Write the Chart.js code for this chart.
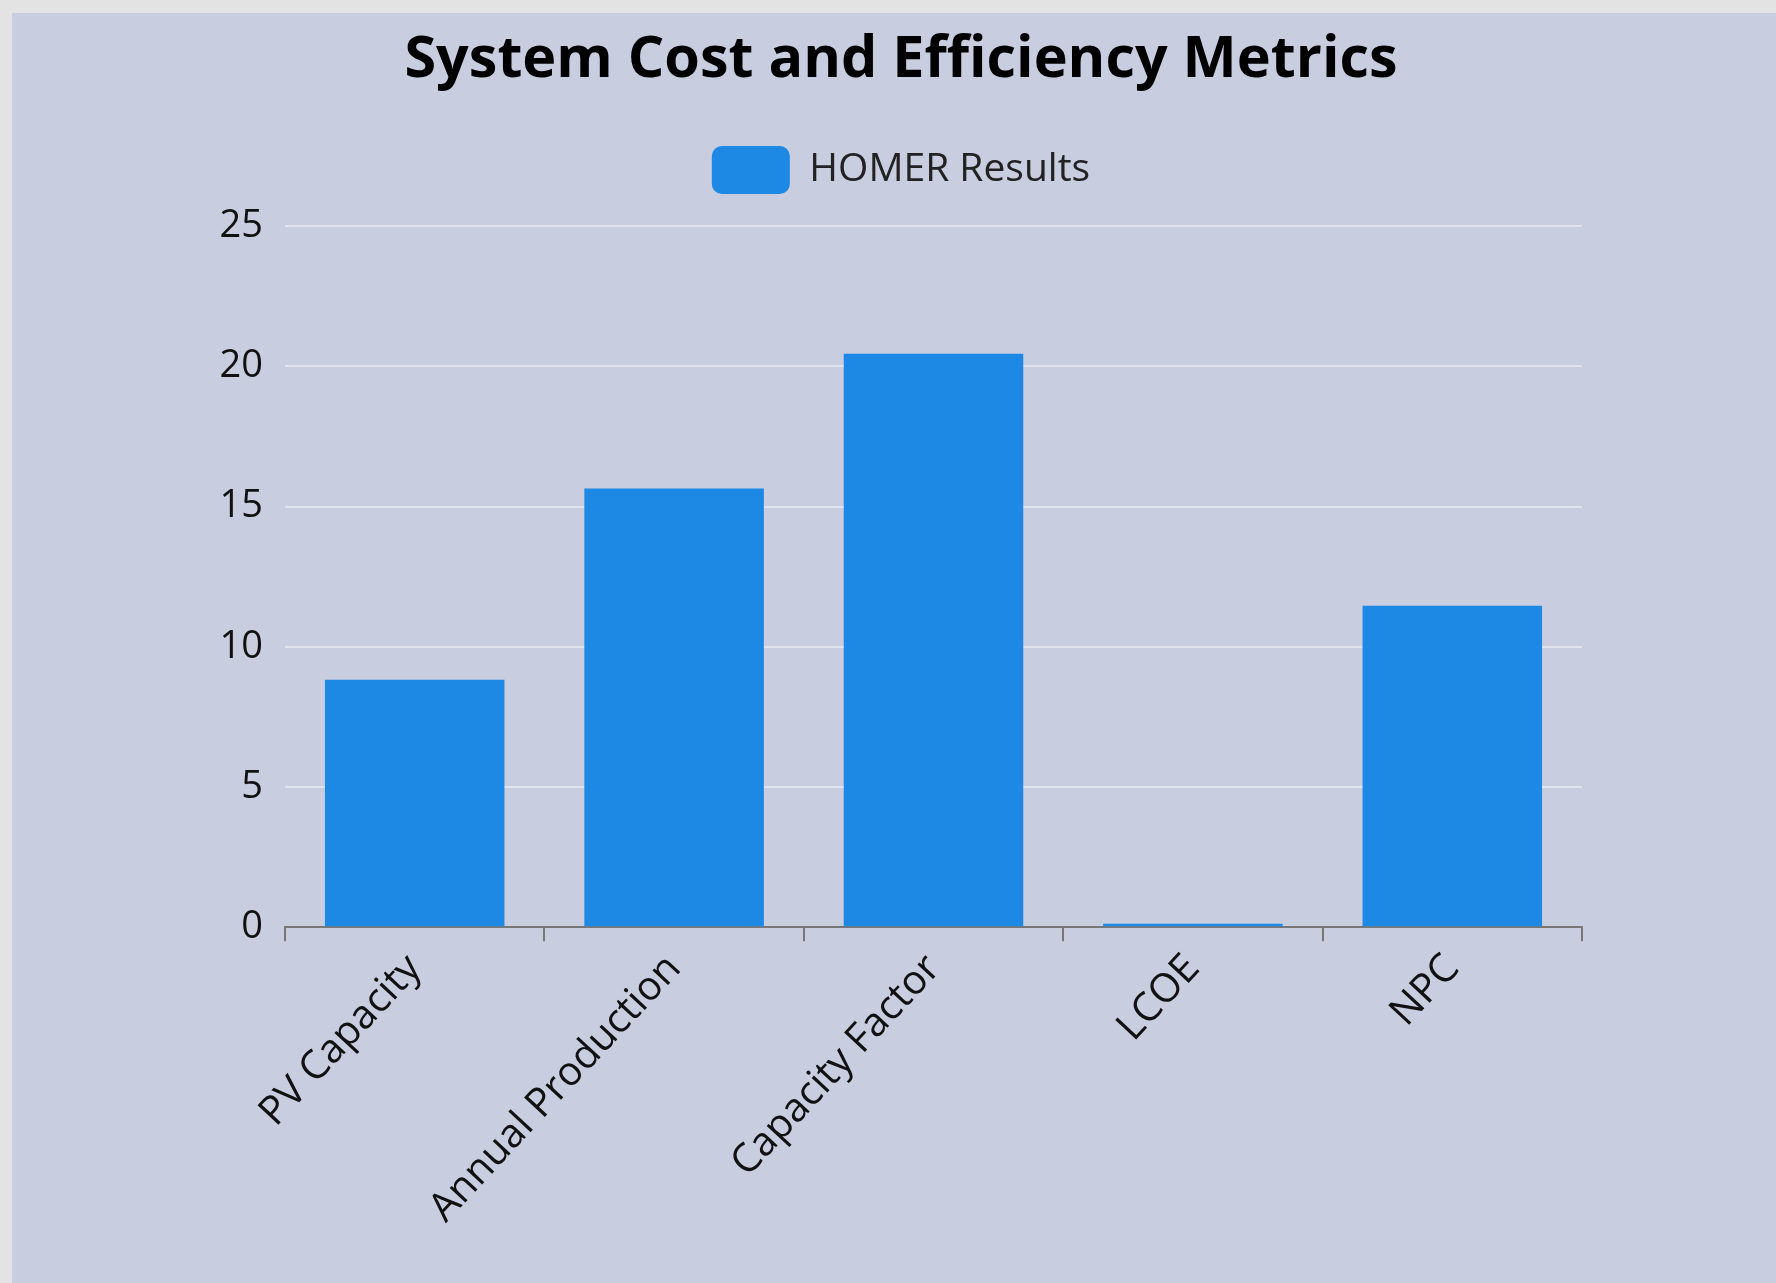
<!DOCTYPE html>
<html>
<head>
<meta charset="utf-8">
<title>System Cost and Efficiency Metrics</title>
<script src="https://cdn.jsdelivr.net/npm/chart.js@4.4.0/dist/chart.umd.min.js"></script>
<style>
  html, body { margin: 0; padding: 0; background: #e3e3e3; overflow: hidden; }
  .panel { position: absolute; left: 12px; top: 13px; width: 1806px; height: 1270px; background: #c8cde0; }
  #metricsChart { display: block; }
</style>
</head>
<body>
<div class="panel">
  <canvas id="metricsChart" width="1806" height="1270"></canvas>
</div>
<script>
// metrics shown on the x axis
const categories = ["PV Capacity", "Annual Production", "Capacity Factor", "LCOE", "NPC"];
// HOMER output values per metric
const homerResults = [8.83, 15.64, 20.45, 0.13, 11.46];
const yTicks = [0, 5, 10, 15, 20, 25];

const fontFamily = "'Open Sans', 'Noto Sans', sans-serif";
const barBlue = "#1e88e5";

// extra room below the legend before the plot starts
const legendSpacer = {
  id: "legendSpacer",
  beforeInit(chart) {
    const origFit = chart.legend.fit;
    chart.legend.fit = function () {
      origFit.bind(chart.legend)();
      this.height += 22;
    };
  },
};

const ctx = document.getElementById("metricsChart");

new Chart(ctx, {
  type: "bar",
  data: {
    labels: categories,
    datasets: [
      {
        label: "HOMER Results",
        data: homerResults,
        backgroundColor: barBlue,
        borderColor: barBlue,
        borderWidth: 0,
        categoryPercentage: 0.8,
        barPercentage: 0.865,
      },
    ],
  },
  plugins: [legendSpacer],
  options: {
    responsive: false,
    animation: false,
    devicePixelRatio: 1,
    layout: {
      padding: { left: 208, right: 236, top: 0, bottom: 47 },
    },
    plugins: {
      title: {
        display: true,
        text: "System Cost and Efficiency Metrics",
        color: "#000",
        font: { family: fontFamily, size: 57.5, weight: "bold" },
        padding: { top: 13, bottom: 19 },
      },
      legend: {
        display: true,
        labels: {
          color: "#222",
          font: { family: fontFamily, size: 39 },
          boxWidth: 78,
          boxHeight: 48,
          useBorderRadius: true,
          borderRadius: 10,
          padding: 32,
        },
      },
      tooltip: { enabled: false },
    },
    scales: {
      x: {
        grid: {
          drawOnChartArea: false,
          drawTicks: true,
          tickLength: 14,
          color: "#777",
          lineWidth: 2,
        },
        border: { display: true, color: "#777", width: 2 },
        ticks: {
          color: "#111",
          font: { family: fontFamily, size: 40 },
          minRotation: 47,
          maxRotation: 47,
          padding: 4,
        },
      },
      y: {
        min: 0,
        max: 25,
        afterBuildTicks: (axis) => {
          axis.ticks = yTicks.map((v) => ({ value: v }));
        },
        afterFit: (axis) => {
          axis.width = 65;
        },
        grid: {
          color: "rgba(255,255,255,0.45)",
          lineWidth: 2,
          drawTicks: false,
        },
        border: { display: false },
        ticks: {
          color: "#111",
          font: { family: fontFamily, size: 38 },
          padding: 22,
        },
      },
    },
  },
});
</script>
</body>
</html>
